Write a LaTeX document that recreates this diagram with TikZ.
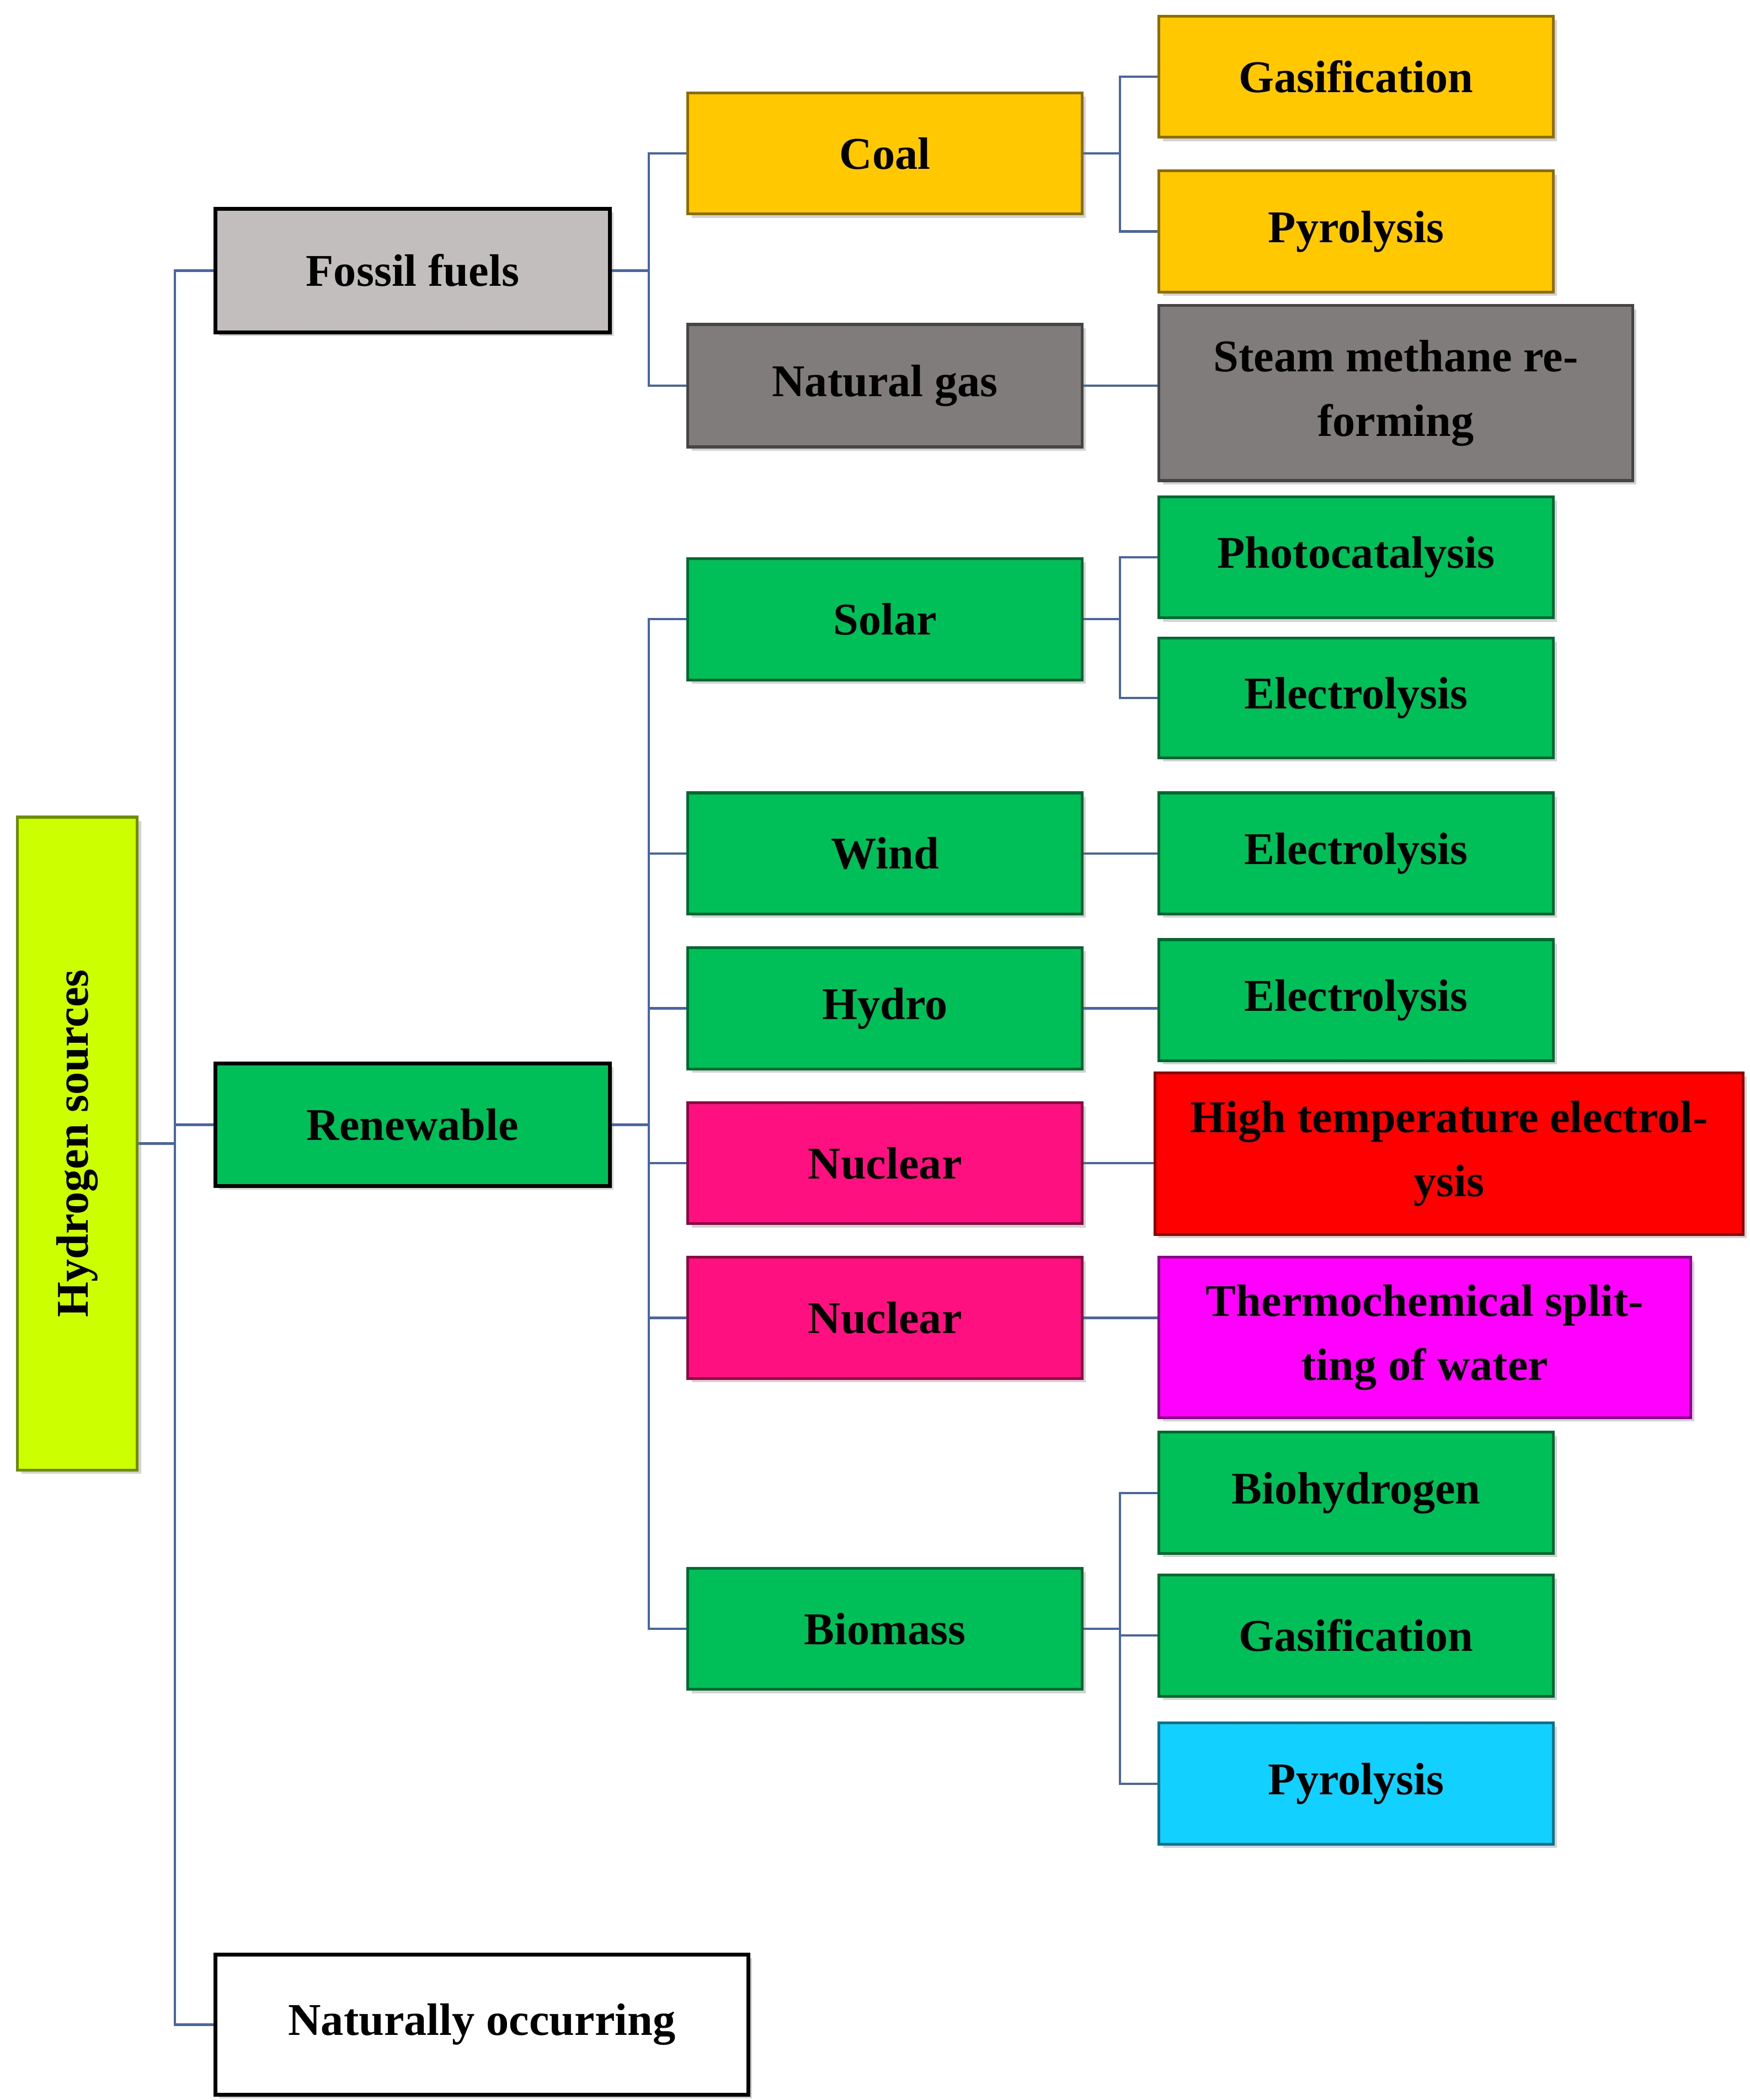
\documentclass[tikz,border=0pt]{standalone}
\usepackage{fontspec}
\setmainfont{Liberation Serif}
\usetikzlibrary{shadows}
\definecolor{cyel}{HTML}{CCFF00}
\definecolor{cgold}{HTML}{FFC800}
\definecolor{cgray}{HTML}{807C7C}
\definecolor{clgray}{HTML}{C2BEBE}
\definecolor{cgreen}{HTML}{00BE58}
\definecolor{cpink}{HTML}{FF1080}
\definecolor{cred}{HTML}{FF0000}
\definecolor{cmag}{HTML}{FF00FF}
\definecolor{ccyan}{HTML}{12D0FF}
\definecolor{cline}{HTML}{4A66A0}
\tikzset{
  box/.style={inner sep=0pt, align=center, font=\fontsize{48}{68}\selectfont\bfseries,
    line width=3pt, drop shadow={shadow xshift=4pt,shadow yshift=-4pt,opacity=0.35}},
  kbox/.style={box, fill=#1, draw=#1!55!black},
  wbox/.style={box, fill=#1, draw=black, line width=4pt},
  conn/.style={draw=cline, line width=2.5pt}
}
\newcommand\bx[7]{%
  \pgfmathsetmacro\bw{(#4-#2)*0.05}\pgfmathsetmacro\bh{(#5-#3)*0.05}%
  \node[#6,minimum width=\bw cm,minimum height=\bh cm] (#1) at ({(#2+#4)/2},{(#3+#5)/2}) {#7};}
\begin{document}
\begin{tikzpicture}[x=0.05cm,y=-0.05cm]
\fill[white] (0,0) rectangle (1300,1560);
\useasboundingbox (0,0) rectangle (1300,1560);
% root
\node[kbox=cyel, rotate=90, minimum width=24.25cm, minimum height=4.45cm] (hs) at (57.5,849.5) {Hydrogen sources};
\bx{ff}{160}{155}{453}{247}{wbox=clgray}{Fossil fuels}
\bx{ren}{160}{790}{453}{881}{wbox=cgreen}{Renewable}
\bx{nat}{160}{1452}{556}{1556}{wbox=white}{Naturally occurring}
% level 2
\bx{coal}{511}{69}{804}{159}{kbox=cgold}{Coal}
\bx{ng}{511}{241}{804}{332}{kbox=cgray}{Natural gas}
\bx{sol}{511}{415}{804}{505}{kbox=cgreen}{Solar}
\bx{wind}{511}{589}{804}{679}{kbox=cgreen}{Wind}
\bx{hyd}{511}{704}{804}{794}{kbox=cgreen}{Hydro}
\bx{nuc1}{511}{819}{804}{909}{kbox=cpink}{Nuclear}
\bx{nuc2}{511}{934}{804}{1024}{kbox=cpink}{Nuclear}
\bx{bio}{511}{1165}{804}{1255}{kbox=cgreen}{Biomass}
% level 3
\bx{gas1}{861}{12}{1154}{102}{kbox=cgold}{Gasification}
\bx{pyr1}{861}{127}{1154}{217}{kbox=cgold}{Pyrolysis}
\bx{smr}{861}{227}{1213}{357}{kbox=cgray}{Steam methane re-\\forming}
\bx{pho}{861}{369}{1154}{459}{kbox=cgreen}{Photocatalysis}
\bx{el1}{861}{474}{1154}{563}{kbox=cgreen}{Electrolysis}
\bx{el2}{861}{589}{1154}{679}{kbox=cgreen}{Electrolysis}
\bx{el3}{861}{698}{1154}{788}{kbox=cgreen}{Electrolysis}
\bx{hte}{858}{797}{1295}{917}{kbox=cred}{High temperature electrol-\\ysis}
\bx{thc}{861}{934}{1256}{1053}{kbox=cmag}{Thermochemical split-\\ting of water}
\bx{bh}{861}{1064}{1154}{1154}{kbox=cgreen}{Biohydrogen}
\bx{gas2}{861}{1170}{1154}{1260}{kbox=cgreen}{Gasification}
\bx{pyr2}{861}{1280}{1154}{1370}{kbox=ccyan}{Pyrolysis}
% connectors
\coordinate (t0) at (130,0);
\coordinate (t1) at (482,0);
\coordinate (t2) at (832,0);
\draw[conn] (hs.south) -- (hs.south -| t0);
\draw[conn] (ff.west) -| (nat.west -| t0) -- (nat.west);
\draw[conn] (ren.west) -- (ren.west -| t0);
\draw[conn] (ff.east) -- (ff.east -| t1);
\draw[conn] (coal.west) -| (ng.west -| t1) -- (ng.west);
\draw[conn] (ren.east) -- (ren.east -| t1);
\draw[conn] (sol.west) -| (bio.west -| t1) -- (bio.west);
\foreach \n in {wind,hyd,nuc1,nuc2} \draw[conn] (\n.west) -- (\n.west -| t1);
\draw[conn] (coal.east) -- (coal.east -| t2);
\draw[conn] (gas1.west) -| (pyr1.west -| t2) -- (pyr1.west);
\draw[conn] (sol.east) -- (sol.east -| t2);
\draw[conn] (pho.west) -| (el1.west -| t2) -- (el1.west);
\draw[conn] (bio.east) -- (bio.east -| t2);
\draw[conn] (bh.west) -| (pyr2.west -| t2) -- (pyr2.west);
\draw[conn] (gas2.west) -- (gas2.west -| t2);
\draw[conn] (ng.east) -- (ng.east -| smr.west);
\draw[conn] (wind.east) -- (el2.west);
\draw[conn] (hyd.east) -- (hyd.east -| el3.west);
\draw[conn] (nuc1.east) -- (nuc1.east -| hte.west);
\draw[conn] (nuc2.east) -- (nuc2.east -| thc.west);
\end{tikzpicture}
\end{document}
